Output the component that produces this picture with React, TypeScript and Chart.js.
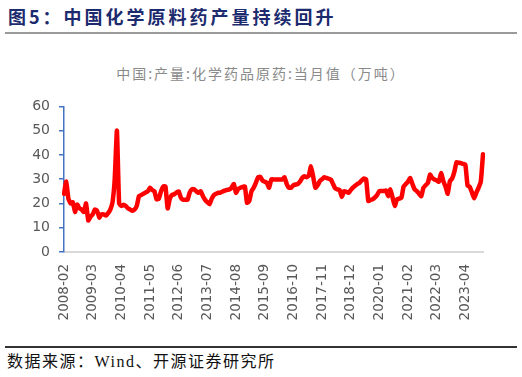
import React, { useEffect, useRef } from "react";
import { Chart, registerables } from "chart.js";

Chart.register(...registerables);

// Monthly categories: 2008-02 .. 2023-12
const startYear = 2008;
const startMonth = 2;
const monthCount = 191;
const months: string[] = [];
for (let i = 0; i < monthCount; i++) {
  const m = startMonth - 1 + i;
  const y = startYear + Math.floor(m / 12);
  const mm = (m % 12) + 1;
  months.push(`${y}-${mm < 10 ? "0" + mm : mm}`);
}

// 中国:产量:化学药品原药:当月值（万吨）
const production: number[] = [
  24, 29, 22, 20, 20.5, 16.5, 19.5, 18, 17.5, 16.5,
  20, 13, 14.5, 15.5, 17.5, 17, 14.2, 15.5, 15.5, 15,
  16, 17.5, 20.5, 30, 50, 20, 19, 19.5, 19, 18,
  17.5, 17, 17.5, 19, 23, 23.5, 24, 24.5, 25, 26.5,
  25.5, 25, 21.7, 22, 25, 27, 27, 18, 22, 23.5,
  23.8, 24.5, 25, 22.4, 21.5, 21.5, 21.5, 24.5, 25.8, 25.8,
  25, 24.4, 25, 23, 21.5, 20.5, 19.7, 22, 23.5, 24,
  24.4, 24.5, 25, 25.3, 25.6, 25.8, 26.5, 28, 24.4, 26,
  26.5, 26.8, 27, 20.3, 21, 25, 26.5, 28.5, 30.8, 31,
  29.5, 29, 28.5, 26.5, 29.9, 29.9, 29.9, 29.9, 29.9, 29.9,
  30.8, 28, 26.5, 26.5, 27.5, 27.8, 28, 29, 30.5, 31.2,
  30.8, 31.5, 35.3, 31, 26.5, 27.5, 29.2, 30, 30.8, 30.5,
  30.2, 29.9, 28, 26.2, 25.8, 25.5, 22.7, 25.1, 24.8, 24.4,
  25.5, 26.5, 27.3, 28, 28.5, 29.5, 30.3, 29.9, 21, 21.5,
  21.7, 22.5, 23.5, 25.1, 25.1, 25.1, 25.4, 23, 25.8, 22.4,
  19, 21.7, 22, 22.4, 27, 28, 29, 30.5, 28, 25.8,
  25.1, 24, 23, 26.5, 27.5, 28.5, 31.9, 30.5, 29.9, 29.5,
  29, 32.6, 29.2, 27, 24, 29.2, 30.3, 33, 37, 36.8,
  36.6, 36.3, 36, 27.4, 26.8, 24.5, 22.1, 24.5, 26.5, 29,
  40.3,
];

const labelEvery = 13;
const yMin = 0;
const yMax = 60;
const yStep = 10;

const figureTitle = "图5：中国化学原料药产量持续回升";
const chartTitle = "中国:产量:化学药品原药:当月值（万吨）";
const sourceText = "数据来源：Wind、开源证券研究所";

export default function App() {
  const ref = useRef<HTMLCanvasElement>(null);

  useEffect(() => {
    const tickFont = { family: "'DejaVu Sans', 'Liberation Sans', sans-serif", size: 13.5 };
    const chart = new Chart(ref.current!, {
      type: "line",
      data: {
        labels: months,
        datasets: [
          {
            data: production,
            borderColor: "#ff0000",
            borderWidth: 4.5,
            pointRadius: 0,
            tension: 0.15,
            borderJoinStyle: "round",
            borderCapStyle: "round",
            fill: false,
          },
        ],
      },
      options: {
        animation: false,
        responsive: false,
        maintainAspectRatio: false,
        layout: { padding: { top: 2, right: 39, left: 0, bottom: 0 } },
        plugins: {
          legend: { display: false },
          tooltip: { enabled: false },
          title: { display: false },
        },
        scales: {
          x: {
            offset: false,
            grid: { display: false, drawTicks: false },
            border: { color: "#d9d9d9", width: 2 },
            ticks: {
              autoSkip: false,
              maxRotation: 90,
              minRotation: 90,
              padding: 12,
              color: "#595959",
              font: tickFont,
              callback: (_v: any, i: number) => (i % labelEvery === 0 ? months[i] : ""),
            },
            afterFit: (s: any) => {
              s.height = 93;
            },
          },
          y: {
            min: yMin,
            max: yMax,
            ticks: { stepSize: yStep, padding: 9, color: "#595959", font: { ...tickFont, size: 14 } },
            grid: { drawOnChartArea: false, drawTicks: true, tickLength: 5, color: "#4472c4", lineWidth: 1.5 },
            border: { color: "#4472c4", width: 1.5 },
            afterFit: (s: any) => {
              s.width = 64;
            },
          },
        },
      },
    } as any);
    return () => chart.destroy();
  }, []);

  return (
    <div style={{ position: "fixed", left: 0, top: 0, width: 522, height: 377, background: "#fff", overflow: "hidden" }}>
      <div
        style={{
          position: "absolute",
          left: 8,
          top: 4,
          fontFamily: "'Noto Sans CJK SC', sans-serif",
          fontWeight: 700,
          fontSize: 18,
          letterSpacing: 3,
          color: "#1c2a6e",
          whiteSpace: "nowrap",
          lineHeight: "24px",
        }}
      >
        {figureTitle}
      </div>
      <div style={{ position: "absolute", left: 5, top: 32, width: 512, height: 2, background: "#9a9a9a" }} />
      <div
        style={{
          position: "absolute",
          left: 0,
          width: 522,
          top: 63,
          textAlign: "center",
          fontFamily: "'Noto Sans CJK SC', sans-serif",
          fontSize: 14,
          letterSpacing: 2,
          color: "#8a8a8a",
          whiteSpace: "nowrap",
          lineHeight: "20px",
        }}
      >
        {chartTitle}
      </div>
      <canvas ref={ref} width={522} height={256} style={{ position: "absolute", left: 0, top: 89, width: 522, height: 256 }} />
      <div style={{ position: "absolute", left: 5, top: 346, width: 512, height: 1.5, background: "#333" }} />
      <div
        style={{
          position: "absolute",
          left: 7,
          top: 351,
          fontFamily: "'Liberation Serif', 'Noto Sans CJK SC', serif",
          fontSize: 16,
          letterSpacing: 1.5,
          color: "#111",
          whiteSpace: "nowrap",
          lineHeight: "21px",
        }}
      >
        {sourceText}
      </div>
    </div>
  );
}
